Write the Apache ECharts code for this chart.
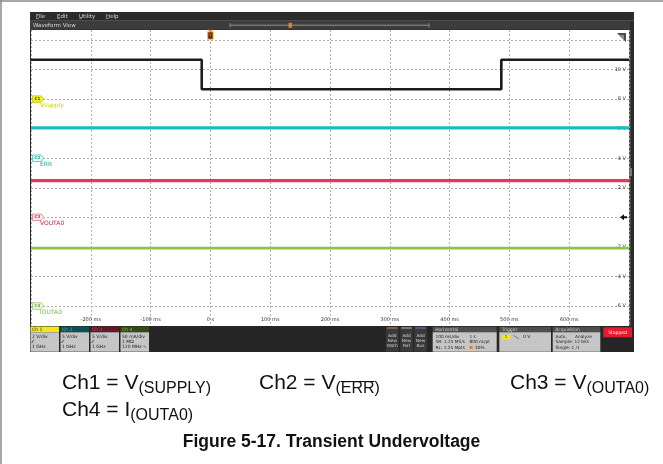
<!DOCTYPE html>
<html><head><meta charset="utf-8">
<script src="https://cdn.jsdelivr.net/npm/echarts@6/dist/echarts.min.js"></script>
<style>html,body{margin:0;padding:0;background:#fff}#c{width:663px;height:464px}</style>
</head><body><div id="c"></div><script>
// ---------- data ----------
const timeTicks = [-200, -100, 0, 100, 200, 300, 400, 500, 600];   // ms
const voltTicks = [-6, -4, -2, 0, 2, 4, 6, 8, 10, 12];              // V
const supplyTime = [-300, -14.5, -14.5, 486.5, 486.5, 700];
const supplyVolt = [10.66, 10.66, 8.67, 8.67, 10.66, 10.66];
const errTime = [-300, 700];
const errVolt = [6.06, 6.06];
const outTime = [-300, 700];
const outVolt = [2.48, 2.48];
const curTime = [-300, 700];
const curVolt = [-2.08, -2.08];
const chanTags = ['C1', 'C2', 'C3', 'C4'];
const chanNames = ['Vsupply', 'ERR', 'VOUTA0', 'IOUTA0'];
const chanRefs = [8, 4, 0, -6];

const zip = (a, b) => a.map((v, i) => [v, b[i]]);
const chart = echarts.init(document.getElementById('c'), null, {renderer: 'canvas'});
const grid0 = {left: 31, top: 30, width: 598, height: 296};
const grid1 = {left: 31, top: 40, width: 598, height: 266};
const dots = {color: '#b0b0b0', width: 1, type: [2, 2]};
const tiny = 'DejaVu Sans';

const option = {
  animation: false,
  backgroundColor: '#fff',
  grid: [Object.assign({show: false}, grid0), Object.assign({show: false}, grid1)],
  xAxis: [
    {gridIndex: 0, type: 'value', min: -300, max: 700, interval: 100,
     axisLine: {show: false}, axisTick: {show: false},
     splitLine: {show: true, lineStyle: dots},
     axisLabel: {inside: true, margin: 4, fontSize: 5, color: '#333', fontFamily: tiny,
       showMinLabel: false, showMaxLabel: false,
       formatter: v => timeTicks.indexOf(v) < 0 ? '' : (v === 0 ? '0 s' : v + ' ms')}},
    {gridIndex: 1, type: 'value', min: -300, max: 700, show: false}
  ],
  yAxis: [
    {gridIndex: 0, type: 'value', min: 0, max: 1, show: false},
    {gridIndex: 1, type: 'value', min: -6, max: 12, interval: 2, position: 'right',
     axisLine: {show: false}, axisTick: {show: false},
     splitLine: {show: true, lineStyle: dots},
     axisLabel: {inside: true, margin: 3, fontSize: 5, color: '#333', fontFamily: tiny,
       formatter: v => (voltTicks.indexOf(v) < 0 || v === 0 || v === 12) ? '' : v + ' V'}}
  ],
  series: [
    {type: 'line', xAxisIndex: 1, yAxisIndex: 1, data: zip(errTime, errVolt), symbol: 'none',
     lineStyle: {color: '#1DBDBD', width: 3.2}, z: 3},
    {type: 'line', xAxisIndex: 1, yAxisIndex: 1, data: zip(outTime, outVolt), symbol: 'none',
     lineStyle: {color: '#E5385A', width: 3.2}, z: 3},
    {type: 'line', xAxisIndex: 1, yAxisIndex: 1, data: zip(curTime, curVolt), symbol: 'none',
     lineStyle: {color: '#8CC63F', width: 2.8}, z: 3},
    {type: 'line', xAxisIndex: 1, yAxisIndex: 1, data: zip(supplyTime, supplyVolt), symbol: 'none',
     lineStyle: {color: '#1c1c1c', width: 2.6}, z: 4}
  ]
};
chart.setOption(option);

// ---------- decorations ----------
const ctx = document.createElement('canvas').getContext('2d');
function tw(text, font) { ctx.font = font; return ctx.measureText(text).width; }
const els = [];
function rect(x, y, w, h, fill, z, extra) {
  els.push(Object.assign({type: 'rect', shape: {x, y, width: w, height: h}, style: {fill}, z: z || 1, silent: true}, extra || {}));
}
function line(x1, y1, x2, y2, stroke, lw, z) {
  els.push({type: 'line', shape: {x1, y1, x2, y2}, style: {stroke, lineWidth: lw || 1}, z: z || 1, silent: true});
}
function text(x, y, t, font, fill, align, z) {
  els.push({type: 'text', x, y, z: z || 10, silent: true,
    style: {text: t, font, fill, textAlign: align || 'left', align: align || 'left',
            textVerticalAlign: 'middle', verticalAlign: 'middle'}});
}
function poly(points, fill, stroke, z) {
  els.push({type: 'polygon', shape: {points}, style: {fill, stroke: stroke || null, lineWidth: 0.8}, z: z || 10, silent: true});
}
const f = (s, b) => (b ? 'bold ' : '') + s + 'px "DejaVu Sans"';

// page border (left and top)
line(1, 0, 1, 464, '#8a8a8a', 1.5, -5);
line(0, 1, 663, 1, '#8a8a8a', 1.5, -5);

// scope frame
rect(30, 12, 604, 340, '#2a2a2a', -10);
rect(31, 30, 598, 296, '#ffffff', -9);
// menu bar
rect(30, 12, 604, 8.5, '#2b2b2b', -8);
line(30, 20.5, 634, 20.5, '#555', 0.8, -7);
rect(30, 21, 600, 8.5, '#3c3c3c', -8);
const menu = [['File', 36], ['Edit', 57], ['Utility', 79], ['Help', 106]];
menu.forEach(m => { text(m[1], 16.2, m[0], f(5.5), '#d8d8d8'); line(m[1], 18.6, m[1] + 3, 18.6, '#d8d8d8', 0.5, 10); });
text(33, 25.3, 'Waveform View', f(5.5), '#d8d8d8');
// overview bar
line(230, 25.3, 429, 25.3, '#9a9a9a', 0.8, 5);
line(230, 23.2, 230, 27.4, '#9a9a9a', 0.8, 5);
line(429, 23, 429, 27.6, '#9a9a9a', 0.8, 5);
line(230, 24.3, 429, 24.3, '#6a6a6a', 0.5, 5);
rect(288.5, 22.8, 3.5, 5, '#d9822b', 6);
// right strip of frame
line(630, 30, 630, 326, '#7a7a7a', 0.8, 5);
rect(629.5, 168, 2.5, 8, '#777', 6);

// markers placed through the chart's scales
const P = (t, v) => chart.convertToPixel({xAxisIndex: 1, yAxisIndex: 1}, [t, v]);
const trig = P(0, 12);
poly([[trig[0] - 2.5, 29.8], [trig[0] + 2.5, 29.8], [trig[0], 31.8]], '#e8821e', null, 12);
rect(trig[0] - 3, 31.5, 6, 8, '#e8821e', 12);
rect(trig[0] - 2, 32.5, 4, 6, '#2a2a2a', 13);
text(trig[0], 35.6, 'T', f(4.5, true), '#e8821e', 'center', 14);

// zero-level arrow on right
const zero = P(700, 0);
poly([[zero[0] - 9, zero[1]], [zero[0] - 5, zero[1] - 3], [zero[0] - 5, zero[1] - 1], [zero[0] - 2, zero[1] - 1],
      [zero[0] - 2, zero[1] + 1], [zero[0] - 5, zero[1] + 1], [zero[0] - 5, zero[1] + 3]], '#111', null, 12);
// top-right icon
poly([[617, 33], [626, 33], [626, 42]], '#4a4a4a', null, 12);
poly([[619, 35], [624, 35], [624, 40]], '#8a8a8a', null, 13);

// channel tags
const tagStyle = [
  {fill: '#eeee30', stroke: '#c9c900', txt: '#444', name: '#d0d000'},
  {fill: '#e4f6f6', stroke: '#4cc4c4', txt: '#2a9a9a', name: '#22a6a6'},
  {fill: '#fbe8ec', stroke: '#e07a90', txt: '#c03050', name: '#b8283f'},
  {fill: '#eef6e2', stroke: '#98c868', txt: '#6aa030', name: '#7ab83a'}
];
chanRefs.forEach((r, i) => {
  const p = P(-300, r);
  const y = p[1], x = p[0] + 1.5, s = tagStyle[i];
  poly([[x, y - 3.3], [x + 8.5, y - 3.3], [x + 11.5, y], [x + 8.5, y + 3.3], [x, y + 3.3]], s.fill, s.stroke, 12);
  text(x + 4.8, y + 0.1, chanTags[i], f(4, true), s.txt, 'center', 13);
  text(x + 7.5, y + 6.5, chanNames[i], f(6), s.name, 'left', 13);
});

// bottom panel
rect(30, 326, 604, 26, '#262626', 2);
const chBoxes = [
  {x: 30.5, hdr: '#f2e61e', ht: '#333', label: 'Ch 1', lines: ['2 V/div', '⁄⁄', '1 GHz']},
  {x: 60.5, hdr: '#0f5054', ht: '#37c8c8', label: 'Ch 2', lines: ['5 V/div', '⁄⁄', '1 GHz']},
  {x: 90.5, hdr: '#5e1a27', ht: '#e0405e', label: 'Ch 3', lines: ['5 V/div', '⁄⁄', '1 GHz']},
  {x: 120.5, hdr: '#34481a', ht: '#8cc63f', label: 'Ch 4', lines: ['50 mA/div', '1 MΩ', '120 MHz ∿']}
];
chBoxes.forEach(b => {
  rect(b.x, 326.5, 28.5, 5.8, b.hdr, 3);
  rect(b.x, 332.3, 28.5, 19.4, '#c6c6c6', 3);
  text(b.x + 1.5, 329.4, b.label, f(4.5), b.ht, 'left', 10);
  b.lines.forEach((t, k) => text(b.x + 1.5, 336.5 + k * 5.2, t, f(4.5), '#222', 'left', 10));
});
// add new boxes
const addBoxes = [{x: 386, c: '#d9822b', t: 'Math'}, {x: 400.3, c: '#bbbbbb', t: 'Ref'}, {x: 414.3, c: '#9a64c8', t: 'Bus'}];
addBoxes.forEach(b => {
  rect(b.x, 326.7, 12.5, 25, '#3a3a3a', 3);
  line(b.x + 1, 328, b.x + 11.5, 328, b.c, 1, 4);
  ['Add', 'New', b.t].forEach((t, k) => text(b.x + 6.25, 335.5 + k * 5, t, f(4.3), '#cfcfcf', 'center', 10));
});
// horizontal / trigger / acquisition panels
const panels = [
  {x: 432.7, w: 64, title: 'Horizontal'},
  {x: 499.3, w: 51.7, title: 'Trigger'},
  {x: 552.7, w: 47.6, title: 'Acquisition'}
];
panels.forEach(p => {
  rect(p.x, 326.7, p.w, 5.6, '#4e4e4e', 3);
  rect(p.x, 332.3, p.w, 19.4, '#c6c6c6', 3);
  text(p.x + 2.5, 329.5, p.title, f(4.5), '#d0d0d0', 'left', 10);
});
const horiz = [['100 ms/div', '1 s'], ['SR: 1.25 MS/s', '800 ns/pt'], ['RL: 1.25 Mpts', '    30%']];
horiz.forEach((r, k) => { text(435.5, 336.8 + k * 5.3, r[0], f(4.3), '#222'); text(469.5, 336.8 + k * 5.3, r[1], f(4.3), '#222'); });
rect(469.5, 346, 3, 3, '#d9822b', 11);
rect(501.8, 334.8, 8.5, 4.6, '#f2e61e', 11);
text(506, 337.1, '1', f(4), '#333', 'center', 12);
line(513.5, 335.3, 519, 339, '#555', 0.7, 11);
text(523, 337.1, '0 V', f(4.5), '#222');
const acq = [['Auto,', 'Analyze'], ['Sample: 12 bits', ''], ['Single: 1 /1', '']];
acq.forEach((r, k) => { text(555.5, 336.8 + k * 5.3, r[0], f(4.3), '#222'); if (r[1]) text(575, 336.8, r[1], f(4.3), '#222'); });
rect(603.3, 327.3, 28.7, 10, '#e8192c', 3);
text(617.6, 332.4, 'Stopped', f(4.5), '#ffffff', 'center', 10);

// caption lines with subscripts
const mainFont = '21px "Liberation Sans"';
const subFont = '16px "Liberation Sans"';
function capItem(x, y, main, sub, over) {
  text(x, y, main, mainFont, '#111', 'left', 20);
  const w = tw(main, mainFont);
  text(x + w, y + 6, sub, subFont, '#111', 'left', 20);
  if (over) {
    const w0 = tw('(', subFont), w1 = tw(over, subFont);
    line(x + w + w0, y - 1.5, x + w + w0 + w1, y - 1.5, '#111', 1.2, 20);
  }
}
capItem(62, 383, 'Ch1 = V', '(SUPPLY)');
capItem(259, 383, 'Ch2 = V', '(ERR)', 'ERR');
capItem(510, 383, 'Ch3 = V', '(OUTA0)');
capItem(62, 410, 'Ch4 = I', '(OUTA0)');
text(331.5, 442, 'Figure 5-17. Transient Undervoltage', 'bold 17.5px "Liberation Sans"', '#111', 'center', 20);

chart.setOption({graphic: {elements: els}});
</script></body></html>
